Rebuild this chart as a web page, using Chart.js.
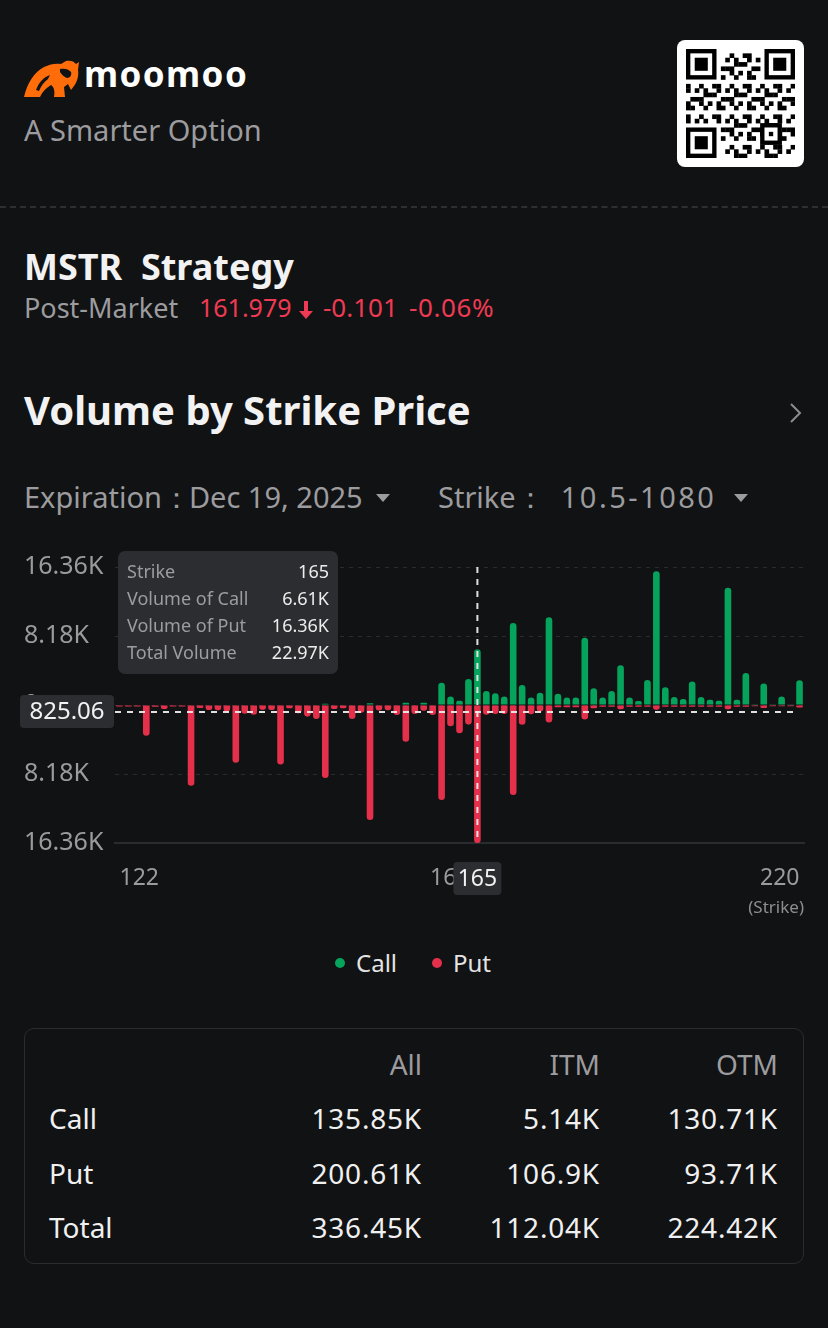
<!DOCTYPE html>
<html>
<head>
<meta charset="utf-8">
<script src="https://cdn.jsdelivr.net/npm/chart.js@4.4.0/dist/chart.umd.min.js"></script>
<style>
  html, body { margin: 0; padding: 0; background: #111214; }
  body { width: 828px; height: 1328px; position: relative; overflow: hidden; font-family: 'Noto Sans', sans-serif; color: #f0f0f0; }
  .abs { position: absolute; white-space: nowrap; line-height: 1; }
  .gray { color: #9c9c9f; }
  .red { color: #ef3a53; }
  .sep { position: absolute; left: 0; top: 206px; width: 828px; height: 0; border-top: 2px dashed #2e2f33; }
  .qr { position: absolute; left: 677px; top: 40px; width: 127px; height: 127px; background: #fff; border-radius: 8px; }
  .tbl { position: absolute; left: 24px; top: 1028px; width: 778px; height: 234px; border: 1px solid #2b2c30; border-radius: 10px; }
  .tri { display: inline-block; width: 0; height: 0; border-left: 7px solid transparent; border-right: 7px solid transparent; border-top: 8px solid #9c9c9f; vertical-align: middle; }
  .dot { position: absolute; width: 10px; height: 10px; border-radius: 5px; }
</style>
</head>
<body>

<!-- header -->
<svg class="abs" style="left:24px;top:60px" width="56" height="38" viewBox="0 0 56 38">
  <path fill="#ff6d0a" d="M0,37 C3,24 10,12 20,7 C26,4 32,3 37,4 L42,1 C46,0 50,1 52,4 L55,2 L54,10 C55,16 53,22 50,26 L47,30 L44,24 L40,27 L41,37 L30,37 C31,31 30,27 27,25 C22,28 18,32 16,37 Z"/>
  <path fill="#111214" d="M36,9 C40,8 45,9 47,12 C48,15 46,18 43,18 C40,17 38,15 36,12 Z"/>
  <path fill="#111214" d="M12,30 C15,22 20,17 26,15 L24,19 C20,22 17,26 15,31 Z"/>
</svg>
<div class="abs" style="left:84px;top:56px;font-size:35px;font-weight:700;letter-spacing:1.4px;color:#fff">moomoo</div>
<div class="abs gray" style="left:24px;top:115px;font-size:29px">A Smarter Option</div>
<div class="qr"><canvas id="qr" width="109" height="109" style="position:absolute;left:9px;top:9px"></canvas></div>
<div class="sep"></div>

<div class="abs" style="left:24px;top:249px;font-size:36px;font-weight:700;color:#f2f2f2">MSTR&nbsp; Strategy</div>
<div class="abs gray" style="left:24px;top:294px;font-size:27px">Post-Market</div>
<div class="abs red" style="left:199px;top:295px;font-size:25px">161.979</div>
<svg class="abs" style="left:298px;top:300px" width="16" height="20" viewBox="0 0 16 20"><path fill="#ef3a53" d="M6,1 H10 V11 H15 L8,19 L1,11 H6 Z"/></svg>
<div class="abs red" style="left:323px;top:294px;font-size:26px">-0.101</div>
<div class="abs red" style="left:409px;top:294px;font-size:26px;letter-spacing:0.6px">-0.06%</div>

<div class="abs" style="left:24px;top:390px;font-size:40px;font-weight:700;color:#f2f2f2">Volume by Strike Price</div>
<svg class="abs" style="left:788px;top:402px" width="16" height="22" viewBox="0 0 16 22"><polyline points="3,2 12,11 3,20" fill="none" stroke="#8d8d90" stroke-width="2"/></svg>

<div class="abs gray" style="left:24px;top:482px;font-size:29px">Expiration：<span style="margin-left:-2px">Dec 19, 2025</span> <span class="tri" style="margin-left:6px;margin-top:-4px"></span></div>
<div class="abs gray" style="left:438px;top:482px;font-size:29px">Strike：<span style="margin-left:16px;letter-spacing:2.5px">10.5-1080</span> <span class="tri" style="margin-left:10px;margin-top:-4px"></span></div>

<!-- chart -->
<div style="position:absolute;left:0;top:540px;width:828px;height:380px">
  <canvas id="chart"></canvas>
</div>

<!-- legend -->
<div class="dot" style="left:335px;top:958px;background:#05a35b"></div>
<div class="abs" style="left:356px;top:951px;font-size:24px;color:#e4e4e4">Call</div>
<div class="dot" style="left:432px;top:958px;background:#e4304b"></div>
<div class="abs" style="left:453px;top:951px;font-size:24px;color:#e4e4e4">Put</div>

<!-- summary table -->
<div class="tbl"></div>
<div id="tblText"></div>

<script>
// strikes shown on the x axis (Dec 19, 2025 expiration, 122 - 220)
var strikes = [
  122, 123, 124, 125, 126, 127, 128, 129, 130, 131, 132, 133, 134, 135, 136, 137, 138, 139, 140,
  141, 142, 143, 144, 145, 146, 147, 148, 149, 150, 151, 152.5, 154, 155, 156, 157.5, 159, 160,
  161, 162.5, 164, 165, 166, 167.5, 169, 170, 171, 172.5, 174, 175, 176, 177.5, 179, 180,
  181, 182.5, 184, 185, 186, 187.5, 189, 190, 191, 192.5, 194, 195, 196, 197.5, 199, 200,
  202.5, 205, 207.5, 210, 212.5, 215, 217.5, 220
];

// call volume per strike (thousands)
var callVolume = [
  0, 0, 0, 0, 0, 0, 0, 0, 0, 0, 0, 0, 0, 0, 0, 0, 0, 0, 0,
  0, 0, 0, 0, 0.15, 0, 0, 0, 0, 0.2, 0, 0, 0, 0.26, 0, 0.28, 0, 2.65,
  1.0, 0.49, 3.08, 6.61, 1.65, 1.4, 1.0, 9.73, 2.37, 0.9, 1.46, 10.4, 1.34, 0.9, 0.9, 7.98,
  2.0, 0.9, 1.66, 4.7, 0.9, 0.47, 2.97, 15.85, 2.09, 0.95, 0.71, 2.8, 0.95, 0.63, 0.5, 13.9,
  0.63, 3.8, 0.1, 2.56, 0.1, 1.02, 0.03, 2.92
];

// put volume per strike (thousands)
var putVolume = [
  0.18, 0.18, 0.18, 3.64, 0.22, 0.47, 0.18, 0.18, 9.57, 0.35, 0.6, 0.62, 0.75, 6.84, 1.03, 1.15, 0.55, 0.6, 7.05,
  0.38, 1.0, 1.38, 1.66, 8.66, 0.47, 0.38, 1.66, 0.92, 13.64, 0.65, 0.62, 1.2, 4.35, 1.07, 0.67, 1.2, 11.27,
  2.53, 3.36, 2.33, 16.36, 1.15, 1.07, 1.07, 10.68, 2.34, 1.1, 0.76, 2.08, 0.28, 0.28, 0.28, 1.72,
  0.4, 0.22, 0.22, 0.5, 0.22, 0.2, 0.2, 0.55, 0.2, 0.2, 0.2, 0.2, 0.2, 0.2, 0.2, 0.5,
  0.2, 0.2, 0.15, 0.36, 0.15, 0.15, 0.15, 0.3
];

var yTickValues = [-16.36, -8.18, 0, 8.18, 16.36];
var activeStrike = 165;
var crosshairValue = -0.82506;

// summary table
var tableCols = ['All', 'ITM', 'OTM'];
var tableRows = ['Call', 'Put', 'Total'];
var callTotals = ['135.85K', '5.14K', '130.71K'];
var putTotals = ['200.61K', '106.9K', '93.71K'];
var allTotals = ['336.45K', '112.04K', '224.42K'];

var GREEN = '#05a35b';
var RED = '#e4304b';

Chart.defaults.font.family = "'Noto Sans', sans-serif";

function fmtK(v) {
    return v.toFixed(2) + 'K';
}

function roundRect(ctx, x, y, w, h, r) {
    ctx.beginPath();
    ctx.moveTo(x + r, y);
    ctx.arcTo(x + w, y, x + w, y + h, r);
    ctx.arcTo(x + w, y + h, x, y + h, r);
    ctx.arcTo(x, y + h, x, y, r);
    ctx.arcTo(x, y, x + w, y, r);
    ctx.closePath();
}

// crosshair, y readout, x readout and tooltip for the hovered strike
var crosshairPlugin = {
    id: 'crosshair',
    afterDatasetsDraw: function (chart) {
        var ctx = chart.ctx;
        var area = chart.chartArea;
        var idx = strikes.indexOf(activeStrike);
        var x = chart.scales.x.getPixelForValue(idx);
        var y = chart.scales.y.getPixelForValue(crosshairValue);
        ctx.save();
        ctx.strokeStyle = 'rgba(235,235,235,0.95)';
        ctx.lineWidth = 2;
        ctx.setLineDash([6, 6]);
        ctx.beginPath();
        ctx.moveTo(x, area.top);
        ctx.lineTo(x, area.bottom);
        ctx.stroke();
        ctx.beginPath();
        ctx.moveTo(area.left, y);
        ctx.lineTo(area.right - 6, y);
        ctx.stroke();
        ctx.restore();
    },
    afterDraw: function (chart) {
        var ctx = chart.ctx;
        var area = chart.chartArea;
        var idx = strikes.indexOf(activeStrike);
        var x = chart.scales.x.getPixelForValue(idx);
        var y = chart.scales.y.getPixelForValue(crosshairValue);
        ctx.save();
        // y readout
        ctx.fillStyle = '#2b2d31';
        roundRect(ctx, 20, y - 17, 94, 33, 4);
        ctx.fill();
        ctx.fillStyle = '#f2f2f2';
        ctx.font = "24px 'Noto Sans'";
        ctx.textAlign = 'center';
        ctx.textBaseline = 'middle';
        ctx.fillText((Math.abs(crosshairValue) * 1000).toFixed(2), 67, y);
        // x readout
        ctx.fillStyle = '#2b2d31';
        roundRect(ctx, x - 24, area.bottom + 19, 48, 33, 4);
        ctx.fill();
        ctx.fillStyle = '#f2f2f2';
        ctx.font = "23px 'Noto Sans'";
        ctx.fillText(String(activeStrike), x, area.bottom + 36);
        // tooltip
        var rows = [
            ['Strike', String(activeStrike)],
            ['Volume of Call', fmtK(callVolume[idx])],
            ['Volume of Put', fmtK(putVolume[idx])],
            ['Total Volume', fmtK(callVolume[idx] + putVolume[idx])]
        ];
        ctx.fillStyle = 'rgba(44,46,50,0.97)';
        roundRect(ctx, 118, area.top - 16, 220, 123, 7);
        ctx.fill();
        ctx.font = "18px 'Noto Sans'";
        for (var i = 0; i < rows.length; i++) {
            var ry = area.top + 6 + i * 27;
            ctx.textAlign = 'left';
            ctx.fillStyle = '#9d9da0';
            ctx.fillText(rows[i][0], 127, ry);
            ctx.textAlign = 'right';
            ctx.fillStyle = '#ececec';
            ctx.fillText(rows[i][1], 329, ry);
        }
        ctx.restore();
    }
};

var lastIdx = strikes.length - 1;
var midIdx = Math.round(lastIdx / 2);

new Chart(document.getElementById('chart'), {
    type: 'bar',
    data: {
        labels: strikes.map(String),
        datasets: [{
            label: 'Call',
            data: callVolume,
            backgroundColor: GREEN,
            borderRadius: 4,
            borderSkipped: 'start',
            barPercentage: 0.74,
            categoryPercentage: 1
        }, {
            label: 'Put',
            data: putVolume.map(function (v) { return -v; }),
            backgroundColor: RED,
            borderRadius: 4,
            borderSkipped: 'start',
            barPercentage: 0.74,
            categoryPercentage: 1
        }]
    },
    options: {
        responsive: true,
        maintainAspectRatio: false,
        animation: false,
        events: [],
        layout: { padding: { left: 24, right: 24, top: 27, bottom: 0 } },
        plugins: {
            legend: { display: false },
            tooltip: { enabled: false }
        },
        scales: {
            x: {
                stacked: true,
                grid: { display: false, drawTicks: false },
                border: { display: true, color: '#2a2b2f', width: 2 },
                ticks: {
                    autoSkip: false,
                    maxRotation: 0,
                    align: 'inner',
                    padding: 22,
                    color: '#9b9b9e',
                    font: { size: 23 },
                    callback: function (val, i) {
                        return (i === 0 || i === midIdx || i === lastIdx) ? strikes[i] : '';
                    }
                },
                title: {
                    display: true,
                    text: '(Strike)',
                    align: 'end',
                    color: '#8e8e91',
                    font: { size: 17 },
                    padding: { top: 0, bottom: 2 }
                },
                afterFit: function (scale) { scale.height = 77; }
            },
            y: {
                stacked: true,
                min: -16.36,
                max: 16.36,
                grid: { color: '#2a2b2f', lineWidth: 1, drawTicks: false },
                border: { display: false, dash: [4, 5] },
                ticks: {
                    crossAlign: 'far',
                    color: '#9b9b9e',
                    font: { size: 25 },
                    callback: function (v) { return v === 0 ? '0' : fmtK(Math.abs(v)); }
                },
                afterBuildTicks: function (scale) {
                    scale.ticks = yTickValues.map(function (v) { return { value: v }; });
                },
                afterFit: function (scale) { scale.width = 91; }
            }
        }
    },
    plugins: [crosshairPlugin]
});

// summary table text
(function () {
    var html = '';
    var colRight = [406, 228, 50];
    var rowTops = [1050, 1104, 1159, 1213];
    var vals = [callTotals, putTotals, allTotals];
    for (var c = 0; c < tableCols.length; c++) {
        html += '<div class="abs gray" style="right:' + colRight[c] + 'px;top:' + rowTops[0] + 'px;font-size:28px">' + tableCols[c] + '</div>';
    }
    for (var r = 0; r < tableRows.length; r++) {
        html += '<div class="abs" style="left:49px;top:' + rowTops[r + 1] + 'px;font-size:28px;color:#f0f0f0">' + tableRows[r] + '</div>';
        for (var k = 0; k < 3; k++) {
            html += '<div class="abs" style="right:' + colRight[k] + 'px;top:' + rowTops[r + 1] + 'px;font-size:28px;letter-spacing:0.8px;color:#f0f0f0">' + vals[r][k] + '</div>';
        }
    }
    document.getElementById('tblText').innerHTML = html;
})();

// decorative QR-like code
(function () {
    var c = document.getElementById('qr').getContext('2d');
    var n = 25, m = 109 / n;
    c.fillStyle = '#000';
    function finder(r0, c0) {
        c.fillRect(c0 * m, r0 * m, 7 * m, 7 * m);
        c.fillStyle = '#fff';
        c.fillRect((c0 + 1) * m, (r0 + 1) * m, 5 * m, 5 * m);
        c.fillStyle = '#000';
        c.fillRect((c0 + 2) * m, (r0 + 2) * m, 3 * m, 3 * m);
    }
    for (var r = 0; r < n; r++) {
        for (var k = 0; k < n; k++) {
            var inFinder = (r < 8 && k < 8) || (r < 8 && k > n - 9) || (r > n - 9 && k < 8);
            if (inFinder) continue;
            if (((r * r * 3 + k * 7 + r * k * 5 + 11) % 7) < 3) c.fillRect(k * m, r * m, m + 0.3, m + 0.3);
        }
    }
    finder(0, 0);
    finder(0, n - 7);
    finder(n - 7, 0);
    c.fillRect(17 * m, 17 * m, 5 * m, 5 * m);
    c.fillStyle = '#fff';
    c.fillRect(18 * m, 18 * m, 3 * m, 3 * m);
    c.fillStyle = '#000';
    c.fillRect(19 * m, 19 * m, m, m);
})();
</script>
</body>
</html>
